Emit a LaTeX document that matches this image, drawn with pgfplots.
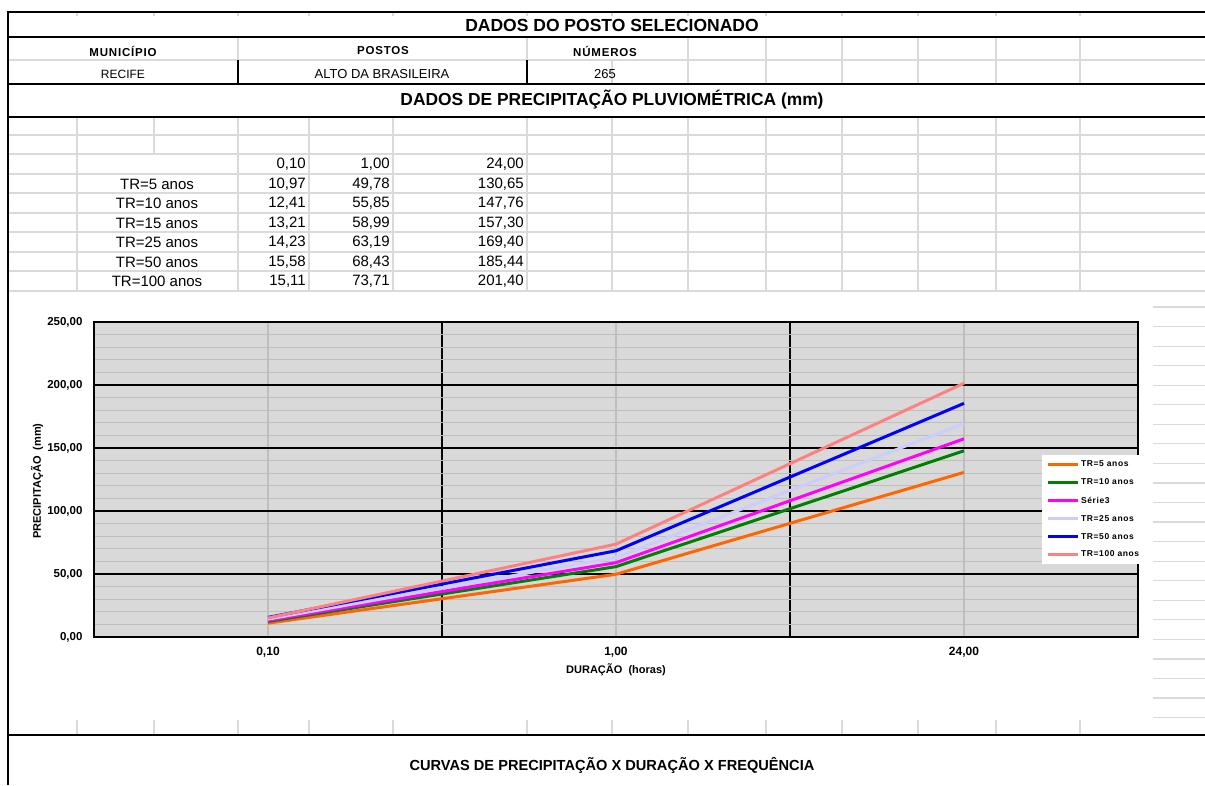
\documentclass[border=0pt]{standalone}
\usepackage{fontspec}
\setmainfont{Liberation Sans}
\newfontfamily\spaced[LetterSpace=7]{Liberation Sans}
\usepackage{pgfplots}
\pgfplotsset{compat=1.18}
\definecolor{sgrid}{HTML}{DADADA}
\definecolor{pbg}{HTML}{D9D9D9}
\definecolor{pminor}{HTML}{BEBEBE}
\definecolor{cOrange}{HTML}{FF6600}
\definecolor{cGreen}{HTML}{008000}
\definecolor{cMagenta}{HTML}{FF00FF}
\definecolor{cLav}{HTML}{CCCCFF}
\definecolor{cBlue}{HTML}{0000FF}
\definecolor{cSalmon}{HTML}{FF8080}
\newcommand\fs[1]{\fontsize{#1}{#1}\selectfont}
\begin{document}
\begin{tikzpicture}
\path[use as bounding box] (0,0) rectangle (1205pt,-785pt);
\begin{scope}[x=1pt,y=-1pt]
% spreadsheet grid in table area
\foreach \y in {135,154,174,193,213,232,252,271,291}
  \draw[sgrid, line width=1.2pt] (8,\y) -- (1205,\y);
\foreach \x in {77,154,238,309,393,527,612,688,766,842,918,996,1080}
  \draw[sgrid, line width=1.2pt] (\x,117) -- (\x,154);
\foreach \x in {77,238,309,393,527,612,688,766,842,918,996,1080}
  \draw[sgrid, line width=1.2pt] (\x,154) -- (\x,291);
% header rows
\draw[sgrid, line width=1.2pt] (8,60) -- (1205,60);
\foreach \x in {688,766,842,918,996,1080}
  \draw[sgrid, line width=1.2pt] (\x,37) -- (\x,84);
\draw[sgrid, line width=1.2pt] (238,37) -- (238,60) (527,37) -- (527,60) (612,60) -- (612,84);
\draw[black, line width=1.3pt] (238,60) -- (238,84) (527,60) -- (527,84);
\foreach \x in {77,154,238,309,393,527,612,688,766,842,918,996,1080}
  \draw[sgrid, line width=1.2pt] (\x,12) -- (\x,16);
% right strip beside chart
\foreach \i [evaluate=\i as \yy using 307+19.55*\i] in {0,...,21}
  \draw[sgrid, line width=1.2pt] (1153,\yy) -- (1205,\yy);
% bottom row ticks
\foreach \x in {77,154,238,309,393,527,612,688,766,842,918,996,1080}
  \draw[sgrid, line width=1.2pt] (\x,720) -- (\x,735);
% thick borders
\draw[line width=2.2pt] (8,12) -- (1205,12);
\draw[line width=1.8pt] (8,37) -- (1205,37) (8,84) -- (1205,84) (8,117) -- (1205,117) (8,735) -- (1205,735);
\draw[line width=2.2pt] (8,11) -- (8,785);
% header texts
\node[font=\bfseries\fs{17.5}] at (612,25) {DADOS DO POSTO SELECIONADO};
\node[font=\bfseries\spaced\fs{11.5}] at (123,51) {MUNICÍPIO};
\node[font=\bfseries\spaced\fs{11.5}] at (383,51) {POSTOS};
\node[font=\bfseries\spaced\fs{11.5}] at (605,51) {NÚMEROS};
\node[font=\fs{12}] at (123,74) {RECIFE};
\node[font=\fs{13}] at (382,74) {ALTO DA BRASILEIRA};
\node[font=\fs{13}] at (605,74) {265};
\node[font=\bfseries\fs{17.4}] at (612,100) {DADOS DE PRECIPITAÇÃO PLUVIOMÉTRICA (mm)};
% table
\begin{scope}[every node/.style={font=\fs{15}, inner sep=0pt}]
\node[anchor=east] at (306,164) {0,10};
\node[anchor=east] at (390,164) {1,00};
\node[anchor=east] at (524,164) {24,00};
\node at (157,184) {TR=5 anos};
\node[anchor=east] at (306,184) {10,97};
\node[anchor=east] at (390,184) {49,78};
\node[anchor=east] at (524,184) {130,65};
\node at (157,203) {TR=10 anos};
\node[anchor=east] at (306,203) {12,41};
\node[anchor=east] at (390,203) {55,85};
\node[anchor=east] at (524,203) {147,76};
\node at (157,223) {TR=15 anos};
\node[anchor=east] at (306,223) {13,21};
\node[anchor=east] at (390,223) {58,99};
\node[anchor=east] at (524,223) {157,30};
\node at (157,242) {TR=25 anos};
\node[anchor=east] at (306,242) {14,23};
\node[anchor=east] at (390,242) {63,19};
\node[anchor=east] at (524,242) {169,40};
\node at (157,262) {TR=50 anos};
\node[anchor=east] at (306,262) {15,58};
\node[anchor=east] at (390,262) {68,43};
\node[anchor=east] at (524,262) {185,44};
\node at (157,281) {TR=100 anos};
\node[anchor=east] at (306,281) {15,11};
\node[anchor=east] at (390,281) {73,71};
\node[anchor=east] at (524,281) {201,40};
\end{scope}
% chart area (white)
\fill[white] (9.2,293) rectangle (1153,719);
\node[font=\bfseries\fs{14.6}] at (612,765) {CURVAS DE PRECIPITAÇÃO X DURAÇÃO X FREQUÊNCIA};
\end{scope}
\begin{axis}[
  at={(94pt,-637pt)}, anchor=south west,
  scale only axis, width=1044pt, height=315pt,
  xmin=0, xmax=3, ymin=0, ymax=250,
  axis background/.style={fill=pbg},
  axis line style={black, line width=2pt},
  xtick={1,2}, xticklabels={},
  minor xtick={0.5,1.5,2.5},
  extra x ticks={0.5,1.5,2.5},
  extra x tick labels={{0,10},{1,00},{24,00}},
  extra x tick style={grid=none},
  ytick={0,50,100,150,200,250},
  minor ytick={10,20,30,40,60,70,80,90,110,120,130,140,160,170,180,190,210,220,230,240},
  grid=both,
  major grid style={black, line width=1.5pt},
  minor grid style={pminor, line width=1.3pt},
  tick style={draw=none},
  tick label style={font=\bfseries\fs{12}},
  yticklabel style={font=\bfseries\fs{11.5},
    /pgf/number format/fixed, /pgf/number format/fixed zerofill,
    /pgf/number format/precision=2, /pgf/number format/use comma,
    /pgf/number format/assume math mode=true, xshift=-8pt},
  xticklabel style={/pgf/number format/assume math mode=true, yshift=-7pt},
  xlabel={DURAÇÃO\ \ (horas)},
  ylabel={PRECIPITAÇÃO\ \ (mm)},
  xlabel style={font=\bfseries\fs{11}, at={(axis description cs:0.5,-0.105)}, anchor=center},
  ylabel style={font=\bfseries\fs{11}, at={(axis description cs:-0.0546,0.495)}, anchor=center},
  legend style={at={(0.908,0.578)}, anchor=north west, draw=none, fill=white,
    font=\bfseries\spaced\fs{8.5}, inner xsep=4pt, inner ysep=4pt, row sep=6.5pt},
  legend cell align=left,
  legend image code/.code={\draw[#1, line width=3pt] (0pt,0pt) -- (30pt,0pt);},
]
\addplot[cOrange, line width=3pt] coordinates {(0.5,10.97) (1.5,49.78) (2.5,130.65)};
\addlegendentry{TR=5 anos}
\addplot[cGreen, line width=3pt] coordinates {(0.5,12.41) (1.5,55.85) (2.5,147.76)};
\addlegendentry{TR=10 anos}
\addplot[cMagenta, line width=3pt] coordinates {(0.5,13.21) (1.5,58.99) (2.5,157.30)};
\addlegendentry{Série3}
\addplot[cLav, line width=3pt] coordinates {(0.5,14.23) (1.5,63.19) (2.5,169.40)};
\addlegendentry{TR=25 anos}
\addplot[cBlue, line width=3pt] coordinates {(0.5,15.58) (1.5,68.43) (2.5,185.44)};
\addlegendentry{TR=50 anos}
\addplot[cSalmon, line width=3pt] coordinates {(0.5,15.11) (1.5,73.71) (2.5,201.40)};
\addlegendentry{TR=100 anos}
\end{axis}
\end{tikzpicture}
\end{document}
